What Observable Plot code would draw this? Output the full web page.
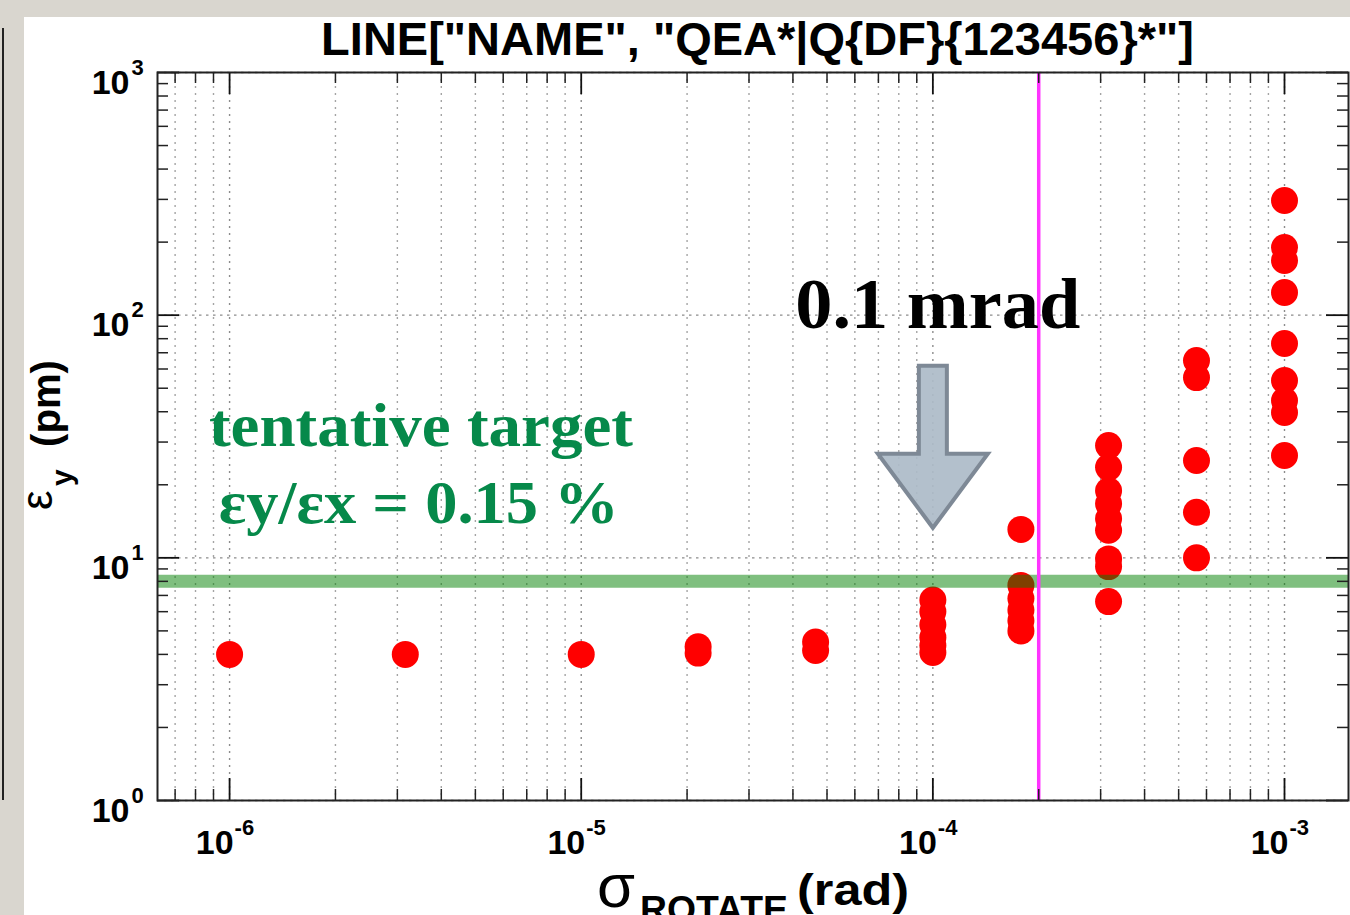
<!DOCTYPE html>
<html>
<head>
<meta charset="utf-8">
<script src="https://cdn.jsdelivr.net/npm/d3@7"></script>
<script src="https://cdn.jsdelivr.net/npm/@observablehq/plot@0.6"></script>
<style>
  html, body { margin: 0; padding: 0; }
  body { width: 1350px; height: 915px; overflow: hidden; background: #d9d6cf; position: relative; }
  #panel { position: absolute; left: 24px; top: 17px; right: 0; bottom: 0; background: #fff; }
  #edge { position: absolute; left: 0; top: 28px; width: 2px; height: 772px; border-right: 2px solid #222; }
  #chart { position: absolute; left: 0; top: 0; }
</style>
</head>
<body>
<div id="edge"></div>
<div id="panel"></div>
<div id="chart"></div>
<script>
// Vertical emittance vs. random rotation error of the selected quadrupoles
const sigmaRotate = [1e-6, 3.16e-6, 1e-5, 2.15e-5, 4.64e-5, 1e-4, 1.78e-4, 3.16e-4, 5.62e-4, 1e-3];
const emittanceY = [
  [4.0],
  [4.0],
  [4.0],
  [4.05, 4.3],
  [4.15, 4.5],
  [6.7, 6.0, 5.3, 4.7, 4.35, 4.07],
  [13.1, 7.7, 6.8, 6.1, 5.5, 5.0],
  [29.0, 23.6, 18.9, 16.7, 14.5, 13.0, 9.9, 9.2, 6.6],
  [65.0, 55.3, 25.2, 15.4, 10.0],
  [297, 190, 168, 124, 76.4, 53.8, 44.5, 39.7, 26.4]
];

const xTickValues = [1e-6, 1e-5, 1e-4, 1e-3];
const xTickExponents = ["-6", "-5", "-4", "-3"];
const yTickValues = [1, 10, 100, 1000];
const yTickExponents = ["0", "1", "2", "3"];

const targetEmittance = 8.0;      // εy for εy/εx = 0.15 %
const rotationLimit = 2e-4;       // vertical marker (rad)
const arrowTip = {sigma: 1e-4, emittance: 13.3};

const titleText = 'LINE["NAME", "QEA*|Q{DF}{123456}*"]';
const targetLabel = ["tentative target", "εy/εx = 0.15 %"];
const arrowLabel = "0.1 mrad";

const xDomain = [10 ** -6.205, 10 ** -2.818];
const yDomain = [1, 1000];

const points = sigmaRotate.flatMap((s, i) => emittanceY[i].map((e) => ({sigma: s, emittance: e})));

// decade lines: 1..9 × 10^k inside the domain
function logLines(domain, e0, e1) {
  const out = [];
  for (let e = e0; e <= e1; e++) {
    for (let m = 1; m <= 9; m++) {
      const v = m * 10 ** e;
      if (v >= domain[0] * 0.999 && v <= domain[1] * 1.001) out.push({v, major: m === 1});
    }
  }
  return out;
}
const gridX = logLines(xDomain, -7, -3);
const gridY = logLines(yDomain, 0, 3);

const W = 1350, H = 915, ML = 157, MR = 2, MT = 72, MB = 115;
const innerW = W - ML - MR, innerH = H - MT - MB;

// block arrow, drawn with its tip at the origin and the shaft pointing up
const blockArrow = {
  draw(ctx) {
    const hw = 14, headW = 55, headL = 74, len = 162;
    ctx.moveTo(-hw, -len);
    ctx.lineTo(-hw, -headL);
    ctx.lineTo(-headW, -headL);
    ctx.lineTo(0, 0);
    ctx.lineTo(headW, -headL);
    ctx.lineTo(hw, -headL);
    ctx.lineTo(hw, -len);
    ctx.closePath();
  }
};

const sans = "Liberation Sans, Arial, Helvetica, sans-serif";
const serif = "Liberation Serif, Times New Roman, serif";

const chart = Plot.plot({
  width: W, height: H,
  marginLeft: ML, marginRight: MR, marginTop: MT, marginBottom: MB,
  style: {background: "transparent", overflow: "visible"},
  x: {type: "log", domain: xDomain, axis: null},
  y: {type: "log", domain: yDomain, axis: null},
  marks: [
    // dotted grid: every log step along x, decades only along y
    Plot.ruleX(gridX, {x: "v", stroke: (d) => d.major ? "#8c8c8c" : "#a4a4a4", strokeWidth: 1.4, strokeDasharray: "2,5"}),
    Plot.ruleY(gridY.filter((d) => d.major), {y: "v", stroke: "#8c8c8c", strokeWidth: 1.4, strokeDasharray: "2.5,4.5"}),
    // data
    Plot.dot(points, {x: "sigma", y: "emittance", r: 13.5, fill: "#ff0000", stroke: "none"}),
    // target band and rotation limit
    Plot.ruleY([targetEmittance], {stroke: "#008000", strokeOpacity: 0.5, strokeWidth: 13}),
    Plot.ruleX([rotationLimit], {stroke: "#ff33ff", strokeWidth: 3.5}),
    // inward ticks on all four sides
    Plot.tickX(gridX.filter((d) => d.major), {x: "v", insetTop: innerH - 22, stroke: "#111", strokeWidth: 1.8}),
    Plot.tickX(gridX.filter((d) => d.major), {x: "v", insetBottom: innerH - 22, stroke: "#111", strokeWidth: 1.8}),
    Plot.tickX(gridX.filter((d) => !d.major), {x: "v", insetTop: innerH - 11, stroke: "#222", strokeWidth: 1.5}),
    Plot.tickX(gridX.filter((d) => !d.major), {x: "v", insetBottom: innerH - 11, stroke: "#222", strokeWidth: 1.5}),
    Plot.tickY(gridY.filter((d) => d.major), {y: "v", insetRight: innerW - 22, stroke: "#111", strokeWidth: 1.8}),
    Plot.tickY(gridY.filter((d) => d.major), {y: "v", insetLeft: innerW - 22, stroke: "#111", strokeWidth: 1.8}),
    Plot.tickY(gridY.filter((d) => !d.major), {y: "v", insetRight: innerW - 11, stroke: "#222", strokeWidth: 1.5}),
    Plot.tickY(gridY.filter((d) => !d.major), {y: "v", insetLeft: innerW - 11, stroke: "#222", strokeWidth: 1.5}),
    Plot.frame({stroke: "#222", strokeWidth: 2}),
    // tick labels 10^k
    Plot.text(xTickValues, {x: (d) => d, text: () => "10", frameAnchor: "bottom", dx: 4, dy: 53, textAnchor: "end", lineAnchor: "bottom",
      fontSize: 34, fontWeight: "bold", fontFamily: sans, fill: "black"}),
    Plot.text(xTickValues, {x: (d) => d, text: (d, i) => xTickExponents[i], frameAnchor: "bottom", dx: 5, dy: 34, textAnchor: "start", lineAnchor: "bottom",
      fontSize: 22, fontWeight: "bold", fontFamily: sans, fill: "black"}),
    Plot.text(yTickValues, {y: (d) => d, text: () => "10", frameAnchor: "left", dx: -28, dy: 21, textAnchor: "end", lineAnchor: "bottom",
      fontSize: 34, fontWeight: "bold", fontFamily: sans, fill: "black"}),
    Plot.text(yTickValues, {y: (d) => d, text: (d, i) => yTickExponents[i], frameAnchor: "left", dx: -26, dy: 2, textAnchor: "start", lineAnchor: "bottom",
      fontSize: 22, fontWeight: "bold", fontFamily: sans, fill: "black"}),
    // title
    Plot.text([titleText], {text: (d) => d, frameAnchor: "top", dx: 4.5, dy: -18, lineAnchor: "bottom",
      fontSize: 47, fontWeight: "bold", fontFamily: sans, fill: "black"}),
    // annotations
    Plot.dot([arrowTip], {x: "sigma", y: "emittance", symbol: blockArrow, r: 10, fill: "#adbbc8", fillOpacity: 0.92, stroke: "#7e8996", strokeWidth: 4, strokeLinejoin: "miter"}),
    Plot.text([arrowLabel], {text: (d) => d, x: 1.033e-4, y: 88.9, textAnchor: "middle", lineAnchor: "bottom",
      fontSize: 72, fontWeight: "bold", fontFamily: serif, fill: "black"}),
    Plot.text([targetLabel[0]], {text: (d) => d, x: 3.5e-6, y: 29.0, textAnchor: "middle", lineAnchor: "bottom",
      fontSize: 62, fontWeight: "bold", fontFamily: serif, fill: "#06894a"}),
    Plot.text([targetLabel[1]], {text: (d) => d, x: 3.45e-6, y: 13.95, textAnchor: "middle", lineAnchor: "bottom",
      fontSize: 62, fontWeight: "bold", fontFamily: serif, fill: "#06894a"})
  ]
});

document.getElementById("chart").appendChild(chart);

const svg = d3.select(chart);

// fit annotation widths
const widths = new Map([[arrowLabel, 285], [targetLabel[0], 424], [targetLabel[1], 400]]);
svg.selectAll("text").each(function () {
  const w = widths.get(this.textContent);
  if (w) { this.setAttribute("textLength", w); this.setAttribute("lengthAdjust", "spacingAndGlyphs"); }
});

// y-axis label: ε_y (pm)
const yl = svg.append("text")
  .attr("transform", "translate(60,0) rotate(-90)")
  .attr("text-anchor", "start")
  .attr("font-family", sans).attr("fill", "black");
yl.append("tspan").attr("x", -510).attr("y", -8).attr("font-size", 44).text("ε");
yl.append("tspan").attr("x", -486).attr("y", 12).attr("font-size", 30).attr("font-weight", "bold").text("y");
yl.append("tspan").attr("x", -447).attr("y", 0).attr("font-size", 40).attr("font-weight", "bold")
  .attr("textLength", 87).attr("lengthAdjust", "spacingAndGlyphs").text("(pm)");

// x-axis label: σ_ROTATE (rad)
const xl = svg.append("text")
  .attr("text-anchor", "start")
  .attr("font-family", sans).attr("fill", "black");
xl.append("tspan").attr("x", 597).attr("y", 907).attr("font-size", 62)
  .attr("textLength", 38).attr("lengthAdjust", "spacingAndGlyphs").text("σ");
xl.append("tspan").attr("x", 640).attr("y", 922).attr("font-size", 36).attr("font-weight", "bold")
  .attr("textLength", 148).attr("lengthAdjust", "spacingAndGlyphs").text("ROTATE");
xl.append("tspan").attr("x", 797).attr("y", 905).attr("font-size", 44).attr("font-weight", "bold")
  .attr("textLength", 112).attr("lengthAdjust", "spacingAndGlyphs").text("(rad)");
</script>
</body>
</html>
